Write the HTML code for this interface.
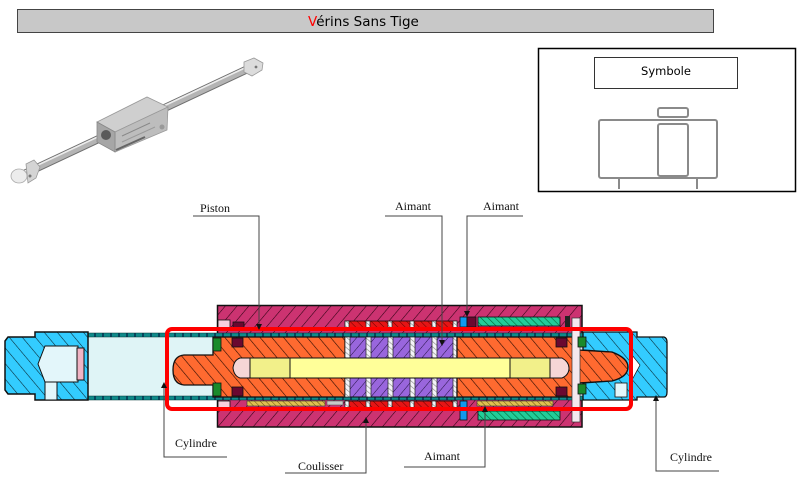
<!DOCTYPE html>
<html><head><meta charset="utf-8"><style>
html,body{margin:0;padding:0;background:#fff;}
svg{display:block;}
</style></head><body>
<svg width="799" height="482" viewBox="0 0 799 482" xmlns="http://www.w3.org/2000/svg">
<defs>
<pattern id="pM" width="9" height="9" patternUnits="userSpaceOnUse" patternTransform="rotate(40)"><rect width="9" height="9" fill="#cc3371"/><line x1="0" y1="0" x2="0" y2="9" stroke="#2a0010" stroke-width="1.1"/></pattern>
<pattern id="pO" width="9" height="9" patternUnits="userSpaceOnUse" patternTransform="rotate(-40)"><rect width="9" height="9" fill="#ff6a30"/><line x1="0" y1="0" x2="0" y2="9" stroke="#2a0a00" stroke-width="1.2"/></pattern>
<pattern id="pB" width="10" height="10" patternUnits="userSpaceOnUse" patternTransform="rotate(-40)"><rect width="10" height="10" fill="#33ccff"/><line x1="0" y1="0" x2="0" y2="10" stroke="#06222c" stroke-width="1.1"/></pattern>
<pattern id="pP" width="7" height="7" patternUnits="userSpaceOnUse" patternTransform="rotate(40)"><rect width="7" height="7" fill="#9966dd"/><line x1="0" y1="0" x2="0" y2="7" stroke="#201040" stroke-width="1"/></pattern>
<pattern id="pR" width="5" height="5" patternUnits="userSpaceOnUse" patternTransform="rotate(-45)"><rect width="5" height="5" fill="#e51515"/><line x1="0" y1="0" x2="0" y2="5" stroke="#600" stroke-width="1"/></pattern>
<pattern id="pG" width="5" height="5" patternUnits="userSpaceOnUse" patternTransform="rotate(-45)"><rect width="5" height="5" fill="#22cc99"/><line x1="0" y1="0" x2="0" y2="5" stroke="#063" stroke-width="1.2"/></pattern>
<pattern id="pY" width="4" height="4" patternUnits="userSpaceOnUse" patternTransform="rotate(-45)"><rect width="4" height="4" fill="#e0c050"/><line x1="0" y1="0" x2="0" y2="4" stroke="#6a5010" stroke-width="1"/></pattern>
<pattern id="pW" width="4" height="4" patternUnits="userSpaceOnUse" patternTransform="rotate(-50)"><rect width="4" height="4" fill="#f4f4f8"/><line x1="0" y1="0" x2="0" y2="4" stroke="#888" stroke-width="1.2"/></pattern>
<pattern id="pT" width="8" height="4" patternUnits="userSpaceOnUse"><rect width="8" height="4" fill="#108a8a"/><line x1="7" y1="0" x2="7" y2="4" stroke="#003" stroke-width="1"/></pattern>
</defs>

<!-- Title -->
<rect x="17.5" y="9.5" width="696" height="23" fill="#c8c8c8" stroke="#444" stroke-width="1"/>
<text x="308" y="26" font-family="'DejaVu Sans', 'Liberation Sans', sans-serif" font-size="13.5" fill="#000"><tspan fill="#ff0000">V</tspan>érins Sans Tige</text>

<!-- Photo of cylinder -->
<g>
<line x1="24" y1="174" x2="252" y2="67" stroke="#6e6e6e" stroke-width="8" stroke-linecap="round"/>
<line x1="24" y1="174" x2="252" y2="67" stroke="#b4b4b4" stroke-width="6"/>
<line x1="23" y1="172" x2="251" y2="65" stroke="#ececec" stroke-width="1.6"/>
<!-- left cap -->
<polygon points="26,164 34,160 40,167 36,178 28,183" fill="#d4d4d4" stroke="#999" stroke-width="0.8"/>
<ellipse cx="19" cy="176" rx="8" ry="7" fill="#ececec" stroke="#aaa" stroke-width="0.8"/>
<circle cx="30" cy="176" r="1.5" fill="#777"/>
<!-- right cap -->
<polygon points="244,62 254,58 263,63 262,70 252,76 244,72" fill="#dcdcdc" stroke="#999" stroke-width="0.8"/>
<circle cx="256" cy="67" r="1.4" fill="#777"/>
<!-- block -->
<polygon points="97,122 147,97 168,107 115,132" fill="#cfcfcf" stroke="#999" stroke-width="0.8"/>
<polygon points="115,132 168,107 167,130 115,152" fill="#bdbdbd" stroke="#999" stroke-width="0.8"/>
<polygon points="97,122 115,132 115,152 97,142" fill="#a6a6a6" stroke="#888" stroke-width="0.8"/>
<circle cx="106" cy="135" r="5" fill="#5a5a5a"/>
<circle cx="162" cy="127" r="2.5" fill="#999"/>
<line x1="122" y1="136" x2="150" y2="123" stroke="#888" stroke-width="1"/>
<line x1="122" y1="142" x2="155" y2="127" stroke="#999" stroke-width="1"/>
<line x1="116" y1="150" x2="145" y2="137" stroke="#666" stroke-width="2"/>
</g>

<!-- Symbol box -->
<rect x="538.5" y="48.5" width="257" height="143" fill="#fff" stroke="#000" stroke-width="1.5"/>
<rect x="594.5" y="57.5" width="143" height="31" fill="#fff" stroke="#333" stroke-width="1"/>
<text x="666" y="75" text-anchor="middle" font-family="'DejaVu Sans', 'Liberation Sans', sans-serif" font-size="11.5" fill="#000">Symbole</text>
<g fill="none" stroke="#8a8a8a" stroke-width="2">
<rect x="599" y="120" width="118" height="58" rx="2"/>
<rect x="658" y="124" width="30" height="52" rx="2"/>
<rect x="658" y="108" width="30" height="9" rx="2"/>
<line x1="619" y1="178" x2="619" y2="189"/>
<line x1="697" y1="178" x2="697" y2="189"/>
</g>

<!-- ====== Cross-section ====== -->
<rect x="217.5" y="305.5" width="364.5" height="121.5" fill="url(#pM)" stroke="#111" stroke-width="1.5"/>
<rect x="65" y="333" width="520" height="67" fill="#dff4f6"/>
<rect x="65" y="333" width="565" height="4" fill="url(#pT)" stroke="#033" stroke-width="0.5"/>
<rect x="65" y="396" width="565" height="4" fill="url(#pT)" stroke="#033" stroke-width="0.5"/>

<!-- left cap -->
<path d="M5,341 L8,337 L35,337 L35,332 L88,332 L88,400 L35,400 L35,394 L8,394 L5,390 Z" fill="url(#pB)" stroke="#111" stroke-width="1.5"/>
<path d="M38,364 L45,346 L78,346 L78,382 L45,382 Z" fill="#e3f6fa" stroke="#111" stroke-width="1"/>
<rect x="45" y="382" width="12" height="18" fill="#e3f6fa" stroke="#111" stroke-width="1"/>
<rect x="77" y="348" width="7" height="32" fill="#f0b4c4" stroke="#111" stroke-width="1"/>

<rect x="218" y="320" width="12" height="9" fill="#f6d0dc" stroke="#111" stroke-width="0.8"/>
<rect x="218" y="401" width="12" height="9" fill="#f6d0dc" stroke="#111" stroke-width="0.8"/>
<rect x="233" y="322" width="11" height="7" fill="#6a0830" stroke="#111" stroke-width="0.8"/>
<rect x="247" y="401" width="78" height="5" fill="url(#pY)" stroke="#333" stroke-width="0.6"/>
<rect x="327" y="401" width="16" height="4" fill="#c8c8c8" stroke="#555" stroke-width="0.6"/>

<!-- left piston -->
<path d="M173,370 Q173,356 184,355 L213,355 L213,337 L345,337 L345,397 L213,397 L213,385 L184,385 Q173,384 173,370 Z" fill="url(#pO)" stroke="#111" stroke-width="1.3"/>
<rect x="213" y="338" width="8" height="13" fill="#1a8a2a" stroke="#111" stroke-width="0.8"/>
<rect x="213" y="383" width="8" height="13" fill="#1a8a2a" stroke="#111" stroke-width="0.8"/>
<rect x="232" y="338" width="11" height="9" fill="#6a0830" stroke="#111" stroke-width="0.8"/>
<rect x="232" y="387" width="11" height="9" fill="#6a0830" stroke="#111" stroke-width="0.8"/>

<!-- magnets -->
<rect x="345" y="337" width="112" height="60" fill="url(#pP)" stroke="#111" stroke-width="1"/>
<rect x="345" y="321" width="112" height="8" fill="url(#pR)" stroke="#111" stroke-width="0.8"/>
<rect x="345" y="401" width="112" height="7" fill="url(#pR)" stroke="#111" stroke-width="0.8"/>
<g fill="url(#pW)" stroke="#222" stroke-width="0.7">
<rect x="345" y="337" width="5" height="60"/><rect x="366" y="337" width="5" height="60"/><rect x="388" y="337" width="5" height="60"/><rect x="410" y="337" width="5" height="60"/><rect x="432" y="337" width="5" height="60"/><rect x="453" y="337" width="5" height="60"/>
<rect x="345" y="321" width="4" height="8"/><rect x="366" y="321" width="4" height="8"/><rect x="388" y="321" width="4" height="8"/><rect x="410" y="321" width="4" height="8"/><rect x="432" y="321" width="4" height="8"/><rect x="453" y="321" width="4" height="8"/>
<rect x="345" y="401" width="4" height="7"/><rect x="366" y="401" width="4" height="7"/><rect x="388" y="401" width="4" height="7"/><rect x="410" y="401" width="4" height="7"/><rect x="432" y="401" width="4" height="7"/><rect x="453" y="401" width="4" height="7"/>
</g>

<!-- right piston -->
<path d="M457,337 L578,337 L578,350 L612,352 Q628,358 628,367 Q628,377 612,381 L578,383 L578,397 L457,397 Z" fill="url(#pO)" stroke="#111" stroke-width="1.3"/>
<rect x="556" y="338" width="11" height="9" fill="#6a0830" stroke="#111" stroke-width="0.8"/>
<rect x="556" y="387" width="11" height="9" fill="#6a0830" stroke="#111" stroke-width="0.8"/>

<rect x="460" y="317" width="7" height="10" fill="#1199ee" stroke="#111" stroke-width="0.8"/>
<rect x="467" y="317" width="9" height="10" fill="#6a0830" stroke="#111" stroke-width="0.8"/>
<rect x="478" y="317" width="82" height="9" fill="url(#pG)" stroke="#111" stroke-width="0.8"/>
<rect x="460" y="401" width="7" height="19" fill="#1199ee" stroke="#111" stroke-width="0.8"/>
<rect x="477" y="401" width="76" height="5" fill="url(#pY)" stroke="#333" stroke-width="0.6"/>
<rect x="478" y="411" width="82" height="9" fill="url(#pG)" stroke="#111" stroke-width="0.8"/>
<rect x="565" y="316" width="5" height="12" fill="#222"/>
<rect x="572" y="318" width="8" height="104" fill="#f4e8ee" stroke="#333" stroke-width="0.7"/>

<!-- right cap -->
<path d="M583,332 L637,332 L637,337 L664,337 Q667,338 667,342 L667,392 Q667,397 664,397 L637,397 L637,400 L583,400 L583,383 L612,381 Q628,377 628,367 Q628,358 612,352 L583,350 Z" fill="url(#pB)" stroke="#111" stroke-width="1.3"/>
<rect x="578" y="337" width="8" height="10" fill="#1a8a2a" stroke="#111" stroke-width="0.8"/>
<rect x="578" y="384" width="8" height="10" fill="#1a8a2a" stroke="#111" stroke-width="0.8"/>
<rect x="615" y="383" width="12" height="14" fill="#e3f6fa" stroke="#111" stroke-width="0.8"/>
<path d="M632,355 L640,365 L632,380 Z" fill="#fff" stroke="#111" stroke-width="0.7"/>

<!-- central rod -->
<path d="M250,358 L250,378 L240,378 Q234,376 233,368 Q234,360 240,358 Z" fill="#f6d6d6" stroke="#111" stroke-width="1"/>
<path d="M550,358 L562,358 Q569,362 569,368 Q569,375 562,378 L550,378 Z" fill="#f6d6d6" stroke="#111" stroke-width="1"/>
<rect x="250" y="358" width="300" height="20" fill="#ffff99" stroke="#111" stroke-width="1"/>
<rect x="250" y="358" width="40" height="20" fill="#f2f08a" stroke="#111" stroke-width="1"/>
<rect x="510" y="358" width="40" height="20" fill="#f2f08a" stroke="#111" stroke-width="1"/>

<!-- red frame -->
<rect x="167" y="329" width="464" height="80" rx="5" fill="none" stroke="#ff0000" stroke-width="4"/>

<!-- label lines -->
<g stroke="#444" stroke-width="1" fill="none">
<polyline points="193,216 259,216 259,327"/>
<polyline points="385,216 442,216 442,343"/>
<polyline points="523,216 467,216 467,314"/>
<polyline points="227,457 164,457 164,385"/>
<polyline points="285,473 366,473 366,420"/>
<polyline points="404,467 485,467 485,409"/>
<polyline points="719,471 656,471 656,398"/>
</g>
<g fill="#111">
<polygon points="256,324 262,324 259,330"/>
<polygon points="439,340 445,340 442,346"/>
<polygon points="464,311 470,311 467,317"/>
<polygon points="161,388 167,388 164,382"/>
<polygon points="363,423 369,423 366,417"/>
<polygon points="482,412 488,412 485,406"/>
<polygon points="653,401 659,401 656,395"/>
</g>
<g font-family="'Liberation Serif', serif" font-size="12" fill="#111">
<text x="200" y="212">Piston</text>
<text x="395" y="210">Aimant</text>
<text x="483" y="210">Aimant</text>
<text x="175" y="447">Cylindre</text>
<text x="298" y="470">Coulisser</text>
<text x="424" y="460">Aimant</text>
<text x="670" y="461">Cylindre</text>
</g>
</svg>
</body></html>
